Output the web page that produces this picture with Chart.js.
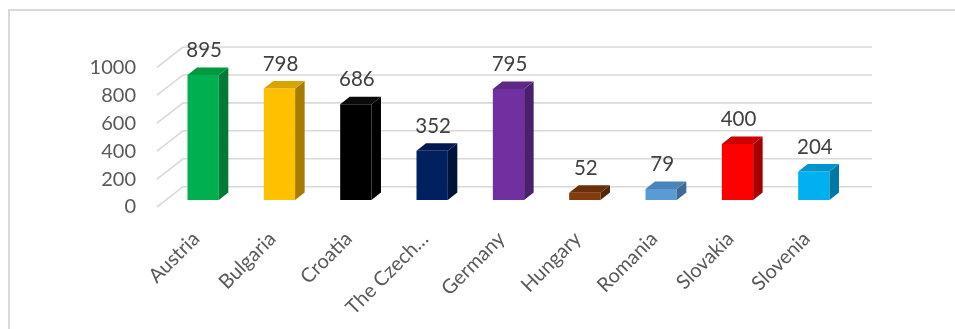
<!DOCTYPE html>
<html>
<head>
<meta charset="utf-8">
<script src="https://cdn.jsdelivr.net/npm/chart.js@4.4.0/dist/chart.umd.min.js"></script>
<style>
  html, body { margin: 0; padding: 0; background: #fff; }
  #box { position: relative; width: 955px; height: 329px; }
  #frame { position: absolute; left: 8px; top: 9px; width: 960px; height: 340px; border: 2px solid #d9d9d9; box-sizing: border-box; }
  canvas { position: absolute; left: 0; top: 0; }
</style>
</head>
<body>
<div id="box">
  <div id="frame"></div>
  <canvas id="myChart" width="955" height="329"></canvas>
</div>
<script>
const countries = ['Austria', 'Bulgaria', 'Croatia', 'The Czech…', 'Germany', 'Hungary', 'Romania', 'Slovakia', 'Slovenia'];
const values = [895, 798, 686, 352, 795, 52, 79, 400, 204];
const yTicks = [0, 200, 400, 600, 800, 1000];

const frontColors = ['#00b050', '#ffc000', '#000000', '#002060', '#7030a0', '#843c0c', '#5b9bd5', '#ff0000', '#00b0f0'];
const topColors = ['#00993f', '#d9a300', '#0a0a0a', '#001a4f', '#5e2887', '#6a300a', '#4a84b8', '#cc0000', '#0095cc'];
const sideColors = ['#007a35', '#a67d00', '#000000', '#00133a', '#4a1f6e', '#55270a', '#3e6a95', '#a50000', '#0077a5'];

const depthX = 9.5;
const depthY = -7.5;
const textColor = '#595959';
const fontFamily = 'Lato, "Open Sans", sans-serif';

// back wall gridlines + diagonal side lines
const wallPlugin = {
  id: 'wall',
  beforeDatasetsDraw(chart) {
    const ctx = chart.ctx;
    const area = chart.chartArea;
    const y = chart.scales.y;
    ctx.save();
    ctx.strokeStyle = '#d9d9d9';
    ctx.lineWidth = 1.6;
    yTicks.forEach(v => {
      const py = y.getPixelForValue(v);
      ctx.beginPath();
      ctx.moveTo(area.left - 8, py + 7);
      ctx.lineTo(area.left + 18, py - 13.3);
      ctx.lineTo(area.right + 20, py - 13.3);
      ctx.stroke();
    });
    // y tick labels at the front end of the diagonals
    ctx.fillStyle = textColor;
    ctx.font = '20px ' + fontFamily;
    ctx.textAlign = 'right';
    ctx.textBaseline = 'middle';
    yTicks.forEach(v => {
      ctx.fillText(String(v), area.left - 29, y.getPixelForValue(v) + 7);
    });
    ctx.restore();
  }
};

// side and top faces of the bars, and value labels
const boxPlugin = {
  id: 'box3d',
  afterDatasetsDraw(chart) {
    const ctx = chart.ctx;
    const meta = chart.getDatasetMeta(0);
    ctx.save();
    meta.data.forEach((bar, i) => {
      const left = bar.x - bar.width / 2;
      const right = bar.x + bar.width / 2;
      const top = bar.y;
      const base = bar.base;

      ctx.fillStyle = sideColors[i];
      ctx.beginPath();
      ctx.moveTo(right, base);
      ctx.lineTo(right + depthX, base + depthY);
      ctx.lineTo(right + depthX, top + depthY);
      ctx.lineTo(right, top);
      ctx.closePath();
      ctx.fill();

      ctx.fillStyle = topColors[i];
      ctx.beginPath();
      ctx.moveTo(left, top);
      ctx.lineTo(left + depthX, top + depthY);
      ctx.lineTo(right + depthX, top + depthY);
      ctx.lineTo(right, top);
      ctx.closePath();
      ctx.fill();

      ctx.fillStyle = '#404040';
      ctx.font = '20.5px ' + fontFamily;
      ctx.textAlign = 'center';
      ctx.textBaseline = 'middle';
      ctx.fillText(String(values[i]), bar.x + 1, top + depthY - 17);
    });
    ctx.restore();
  }
};

const data = {
  labels: countries,
  datasets: [{
    data: values,
    backgroundColor: frontColors,
    borderWidth: 0,
    barPercentage: 0.41,
    categoryPercentage: 1,
  }],
};

const config = {
  type: 'bar',
  data: data,
  options: {
    responsive: false,
    animation: false,
    devicePixelRatio: 1,
    layout: { padding: { top: 60.3, right: 103, left: 0, bottom: 0 } },
    plugins: { legend: { display: false }, tooltip: { enabled: false } },
    scales: {
      y: {
        min: 0,
        max: 1000,
        grid: { display: false },
        border: { display: false },
        ticks: { display: false },
        afterFit: s => { s.width = 165; },
      },
      x: {
        grid: { display: false },
        border: { display: false },
        ticks: {
          color: textColor,
          font: { family: fontFamily, size: 20 },
          minRotation: 45,
          maxRotation: 45,
          padding: 19,
          labelOffset: -7,
          autoSkip: false,
        },
        afterFit: s => { s.height = 129; },
      },
    },
  },
  plugins: [wallPlugin, boxPlugin],
};

const myChart = new Chart(document.getElementById('myChart'), config);
</script>
</body>
</html>
